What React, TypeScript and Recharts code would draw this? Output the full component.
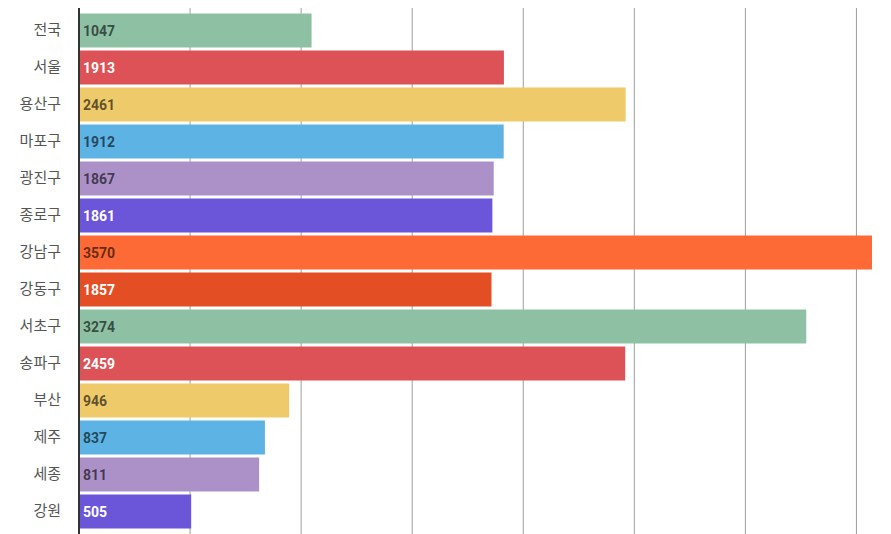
import { Bar, BarChart, CartesianGrid, Cell, LabelList, XAxis, YAxis } from "recharts";

const REGIONS = [
  "전국", "서울", "용산구", "마포구", "광진구", "종로구", "강남구",
  "강동구", "서초구", "송파구", "부산", "제주", "세종", "강원",
];
const VALUES = [1047, 1913, 2461, 1912, 1867, 1861, 3570, 1857, 3274, 2459, 946, 837, 811, 505];
const X_TICKS = [0, 500, 1000, 1500, 2000, 2500, 3000, 3500];
const X_MAX = 3570;

// fill + label colour, cycles through the bars
const PALETTE = [
  { fill: "#8ec1a4", text: "rgba(0,0,0,0.62)" },
  { fill: "#dc5256", text: "#ffffff" },
  { fill: "#efca6a", text: "rgba(0,0,0,0.62)" },
  { fill: "#5db3e3", text: "rgba(0,0,0,0.62)" },
  { fill: "#ab91c7", text: "rgba(0,0,0,0.62)" },
  { fill: "#6b55d9", text: "#ffffff" },
  { fill: "#fe6a36", text: "rgba(0,0,0,0.62)" },
  { fill: "#e44e25", text: "#ffffff" },
];

const data = REGIONS.map((name, i) => ({ name, value: VALUES[i] }));

function ValueLabel(props: any) {
  const { x, y, height, value, index } = props;
  const c = PALETTE[index % PALETTE.length];
  return (
    <text
      x={Number(x) + 4}
      y={Number(y) + Number(height) / 2}
      dominantBaseline="central"
      fill={c.text}
      fontFamily="Roboto, sans-serif"
      fontWeight={700}
      fontSize={14}
    >
      {value}
    </text>
  );
}

// only the 500-step lines, no line at the right edge of the plot
const gridXs = ({ offset }: any) =>
  X_TICKS.map((t) => offset.left + (t / X_MAX) * offset.width);

export default function App() {
  return (
    <div style={{ position: "absolute", left: 0, top: 0, background: "#fff" }}>
      <BarChart
        width={891}
        height={534}
        data={data}
        layout="vertical"
        margin={{ top: 8, right: 19, bottom: 0, left: 0 }}
      >
        <CartesianGrid horizontal={false} stroke="#9e9e9e" verticalCoordinatesGenerator={gridXs} />
        <XAxis type="number" hide domain={[0, X_MAX]} ticks={X_TICKS} />
        <YAxis
          type="category"
          dataKey="name"
          width={79}
          tickLine={false}
          axisLine={{ stroke: "#333", strokeWidth: 2 }}
          padding={{ top: 3.5, bottom: 4.5 }}
          tickMargin={12}
          tick={{ fill: "#555", fontSize: 15, fontFamily: "'Noto Sans CJK KR', sans-serif" }}
          interval={0}
        />
        <Bar dataKey="value" barSize={34} isAnimationActive={false}>
          {data.map((d, i) => (
            <Cell key={d.name} fill={PALETTE[i % PALETTE.length].fill} />
          ))}
          <LabelList dataKey="value" content={ValueLabel} />
        </Bar>
      </BarChart>
    </div>
  );
}
